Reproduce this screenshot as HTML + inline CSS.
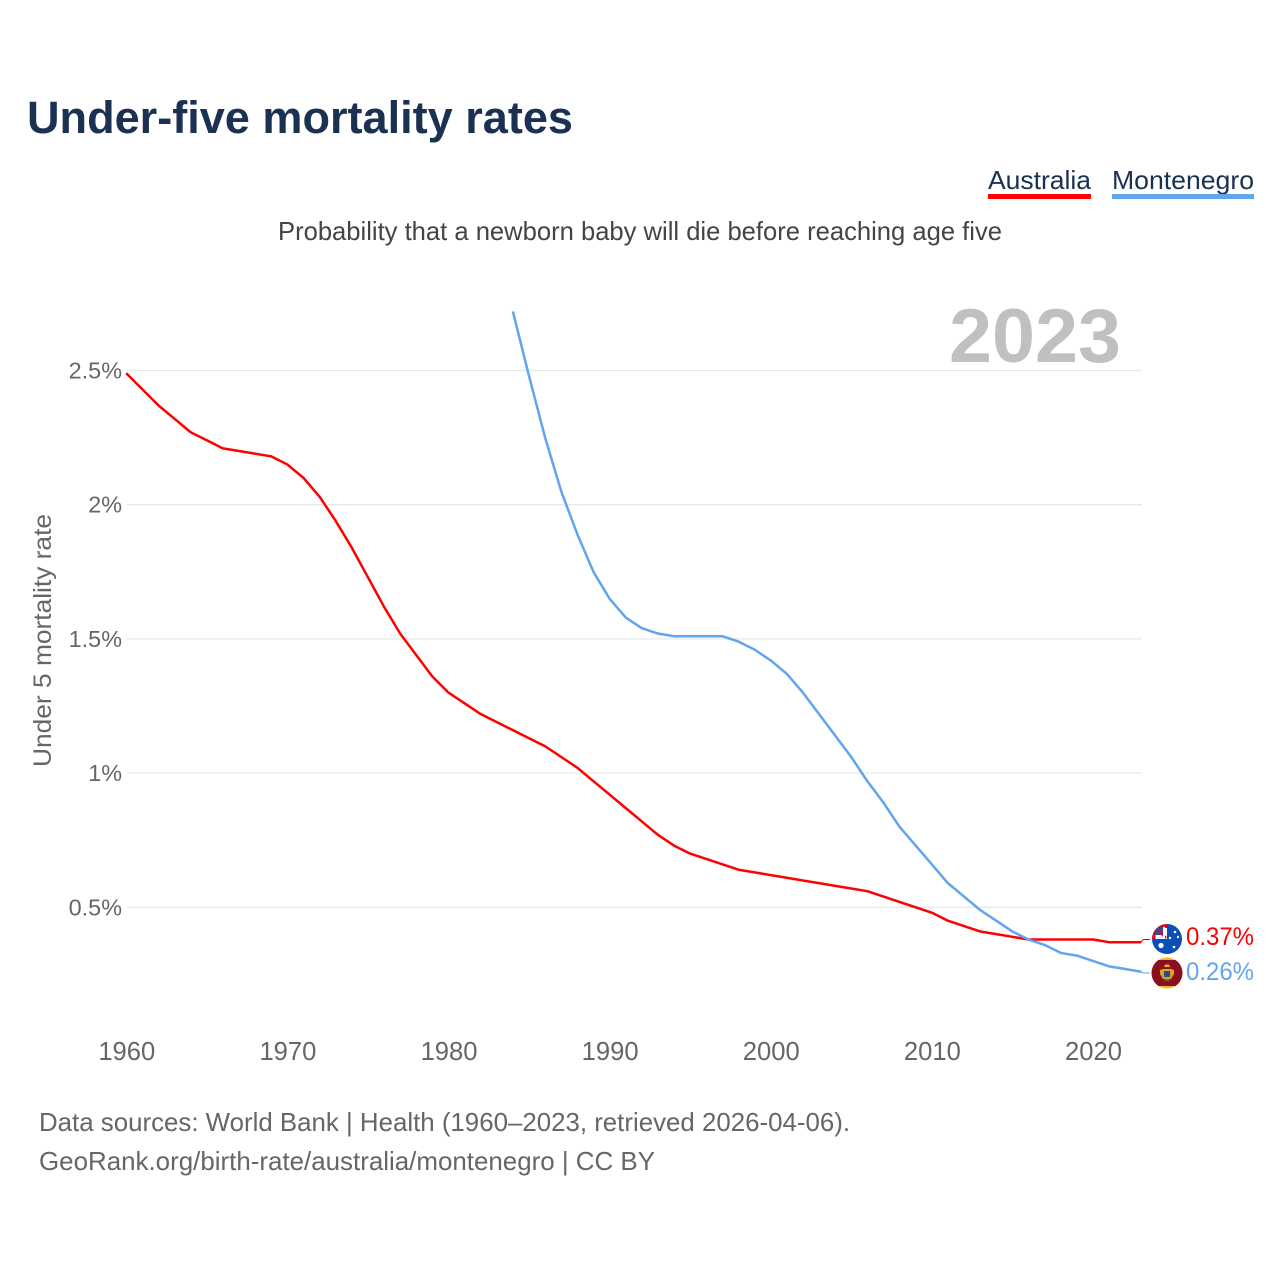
<!DOCTYPE html>
<html lang="en">
<head>
<meta charset="utf-8">
<title>Under-five mortality rates</title>
<style>
html,body{margin:0;padding:0;background:#fff;width:1280px;height:1280px;overflow:hidden}
svg{display:block}
text{font-family:"Liberation Sans",sans-serif}
</style>
</head>
<body>
<svg id="chart" xmlns="http://www.w3.org/2000/svg" width="1280" height="1280" viewBox="0 0 1280 1280">
  <rect width="1280" height="1280" fill="#fff"/>
  <text x="27" y="133" font-size="45" font-weight="700" fill="#1a3152" textLength="546" lengthAdjust="spacingAndGlyphs">Under-five mortality rates</text>
  <text x="988" y="189" font-size="26" fill="#1a3152" textLength="103" lengthAdjust="spacingAndGlyphs">Australia</text>
  <rect x="988" y="194" width="103" height="5" fill="#ff0000"/>
  <text x="1112" y="189" font-size="26" fill="#1a3152" textLength="142" lengthAdjust="spacingAndGlyphs">Montenegro</text>
  <rect x="1112" y="194" width="142" height="5" fill="#60a5ee"/>
  <text x="278" y="240" font-size="26" fill="#444" textLength="724" lengthAdjust="spacingAndGlyphs">Probability that a newborn baby will die before reaching age five</text>
  <text x="949" y="362" font-size="76" font-weight="700" fill="#c0c0c0" textLength="172" lengthAdjust="spacingAndGlyphs">2023</text>
  <text transform="translate(51,640.5) rotate(-90)" text-anchor="middle" font-size="25" fill="#666" textLength="253" lengthAdjust="spacingAndGlyphs">Under 5 mortality rate</text>
  <g id="grid"></g>
  <g id="yticks"></g>
  <g id="xticks"></g>
  <g id="series"></g>

  <g>
    <clipPath id="clipA"><circle cx="1167" cy="939" r="15"/></clipPath>
    <g clip-path="url(#clipA)">
      <rect x="1152" y="924" width="30" height="30" fill="#0a4fb5"/>
      <rect x="1152" y="924" width="15" height="15" fill="#f4f4f4"/>
      <rect x="1152" y="924" width="15" height="4" fill="#c8102e"/>
      <rect x="1152" y="924" width="3.5" height="15" fill="#c8102e"/>
      <rect x="1155.5" y="928" width="8" height="7" fill="#2a4f9e"/>
      <path d="M1157 929 L1166 938" stroke="#c8102e" stroke-width="2.5"/>
      <path d="M1164 927 V939" stroke="#f4f4f4" stroke-width="2"/>
      <circle cx="1161" cy="945.5" r="2.6" fill="#fff"/>
      <circle cx="1175" cy="932" r="1.3" fill="#fff"/>
      <circle cx="1170" cy="938" r="1.2" fill="#fff"/>
      <circle cx="1178" cy="937" r="1.2" fill="#fff"/>
      <circle cx="1174" cy="947" r="1.3" fill="#fff"/>
    </g>
  </g>
  <g>
    <clipPath id="clipM"><circle cx="1167" cy="973" r="15.5"/></clipPath>
    <g clip-path="url(#clipM)">
      <rect x="1151" y="957" width="32" height="32" fill="#f2b632"/>
      <rect x="1151" y="960" width="32" height="26" fill="#8c0f1f"/>
      <path d="M1160 970 l3 -1 h8 l3 1 v4 l-3 5 h-8 l-3 -5 z" fill="#d9a520"/>
      <rect x="1164" y="971" width="6" height="6" fill="#2b4a8f"/>
      <path d="M1164 967 h6 l-1 -2.5 h-4 z" fill="#e0b030"/>
      <rect x="1164.5" y="979" width="5" height="2" fill="#4c7a3a"/>
    </g>
  </g>

  <text x="1186" y="945" font-size="25" fill="#ff0000" textLength="68" lengthAdjust="spacingAndGlyphs">0.37%</text>
  <text x="1186" y="980" font-size="25" fill="#60a5ee" textLength="68" lengthAdjust="spacingAndGlyphs">0.26%</text>

  <text x="39" y="1131" font-size="26" fill="#666" textLength="811" lengthAdjust="spacingAndGlyphs">Data sources: World Bank | Health (1960–2023, retrieved 2026-04-06).</text>
  <text x="39" y="1170" font-size="26" fill="#666" textLength="616" lengthAdjust="spacingAndGlyphs">GeoRank.org/birth-rate/australia/montenegro | CC BY</text>
</svg>
<script>
const yTickValues = [0.5, 1, 1.5, 2, 2.5];
const yTickLabels = ["0.5%", "1%", "1.5%", "2%", "2.5%"];
const xTickValues = [1960, 1970, 1980, 1990, 2000, 2010, 2020];
const xTickLabels = ["1960", "1970", "1980", "1990", "2000", "2010", "2020"];
const australiaStartYear = 1960;
const australiaValues = [
  2.49, 2.43, 2.37, 2.32, 2.27, 2.24, 2.21, 2.20, 2.19, 2.18,
  2.15, 2.10, 2.03, 1.94, 1.84, 1.73, 1.62, 1.52, 1.44, 1.36,
  1.30, 1.26, 1.22, 1.19, 1.16, 1.13, 1.10, 1.06, 1.02, 0.97,
  0.92, 0.87, 0.82, 0.77, 0.73, 0.70, 0.68, 0.66, 0.64, 0.63,
  0.62, 0.61, 0.60, 0.59, 0.58, 0.57, 0.56, 0.54, 0.52, 0.50,
  0.48, 0.45, 0.43, 0.41, 0.40, 0.39, 0.38, 0.38, 0.38, 0.38,
  0.38, 0.37, 0.37, 0.37
];
const montenegroStartYear = 1984;
const montenegroValues = [
  2.72, 2.48, 2.25, 2.05, 1.89, 1.75,
  1.65, 1.58, 1.54, 1.52, 1.51, 1.51, 1.51, 1.51, 1.49, 1.46,
  1.42, 1.37, 1.30, 1.22, 1.14, 1.06, 0.97, 0.89, 0.80, 0.73,
  0.66, 0.59, 0.54, 0.49, 0.45, 0.41, 0.38, 0.36, 0.33, 0.32,
  0.30, 0.28, 0.27, 0.26
];

const NS = "http://www.w3.org/2000/svg";
const xScale = year => 126.2 + (year - 1960) * (1092.9 - 126.2) / 60;
const yScale = value => 907.3 - (value - 0.5) * 268.4;

function make(tag, attrs, parent, text) {
  const el = document.createElementNS(NS, tag);
  for (const k in attrs) el.setAttribute(k, attrs[k]);
  if (text !== undefined) el.textContent = text;
  parent.appendChild(el);
  return el;
}

const gridG = document.getElementById("grid");
const yG = document.getElementById("yticks");
yTickValues.forEach((v, i) => {
  const y = yScale(v);
  const line = make("line", {x1: 127, x2: 1142, y1: y, y2: y, stroke: "#e8e8e8", "stroke-width": 1.3}, gridG);
  
  
  const lab = make("text", {x: 122, y: y + 8, "text-anchor": "end", "font-size": 23.4, fill: "#666"}, yG, yTickLabels[i]);
  
  
});

const xG = document.getElementById("xticks");
xTickValues.forEach((v, i) => {
  const lab = make("text", {x: xScale(v) + 0.6, y: 1060, "text-anchor": "middle", "font-size": 25.6, fill: "#666"}, xG, xTickLabels[i]);
  
  
});

function seriesPoints(startYear, values) {
  return values.map((v, i) => xScale(startYear + i).toFixed(2) + "," + yScale(v).toFixed(2)).join(" ");
}
const seriesG = document.getElementById("series");

const ausLine = make("polyline", {points: seriesPoints(australiaStartYear, australiaValues), fill: "none", stroke: "#ff0000", "stroke-width": 2.5, "stroke-linejoin": "round"}, seriesG);



const monLine = make("polyline", {points: seriesPoints(montenegroStartYear, montenegroValues), fill: "none", stroke: "#60a5ee", "stroke-width": 2.5, "stroke-linejoin": "round"}, seriesG);



const ausLast = australiaValues[australiaValues.length - 1];
const monLast = montenegroValues[montenegroValues.length - 1];
const ausConn = make("path", {d: "M1141 " + yScale(ausLast) + " L1143 939.5 H1150", fill: "none", stroke: "#ff0000", "stroke-width": 1}, seriesG);


const monConn = make("path", {d: "M1141 " + yScale(monLast) + " L1143 973 H1150", fill: "none", stroke: "#60a5ee", "stroke-width": 1}, seriesG);


</script>
</body>
</html>
